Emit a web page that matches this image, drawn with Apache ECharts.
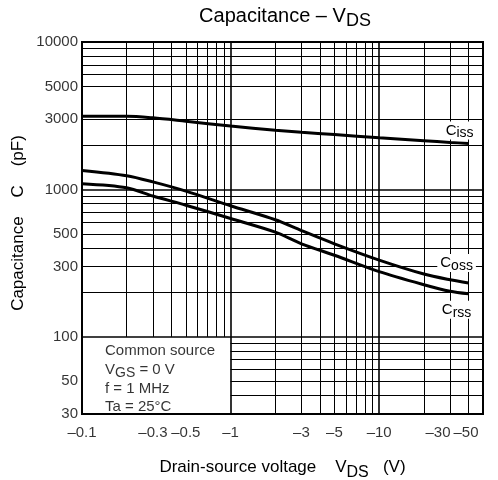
<!DOCTYPE html>
<html>
<head>
<meta charset="utf-8">
<script src="https://cdn.jsdelivr.net/npm/echarts@6/dist/echarts.min.js"></script>
<style>
  html, body { margin: 0; padding: 0; background: #fff; }
  #box { width: 498px; height: 480px; }
</style>
</head>
<body>
<div id="box"></div>
<script>
// |V_DS| in volts (the chart shows them as negative values)
const vds = [0.1, 0.2, 0.3, 0.5, 1, 2, 3, 5, 10, 20, 30, 40];
// capacitance in pF
const ciss = [3140, 3140, 3060, 2900, 2690, 2520, 2440, 2360, 2240, 2140, 2085, 2050];
const coss = [1346, 1240, 1126, 975, 775, 623, 526, 428, 332, 267, 244, 232];
const crss = [1092, 1026, 902, 782, 635, 513, 428, 358, 277, 226, 204, 196];

// tick labels
const xTicks = [0.1, 0.3, 0.5, 1, 3, 5, 10, 30, 50];
const yTicks = [30, 50, 100, 300, 500, 1000, 3000, 5000, 10000];

// grid lines drawn inside the plot
const xGrid = [0.2, 0.3, 0.4, 0.5, 0.6, 0.7, 0.8, 0.9, 1, 2, 3, 4, 5, 6, 7, 8, 9, 10, 20, 30, 40];
const yGrid = [40, 50, 60, 70, 80, 90, 100, 200, 300, 400, 500, 600, 700, 800, 900,
  1000, 2000, 3000, 5000, 6000, 7000, 8000, 9000];

const FONT = "Liberation Sans";
const X_MIN = 0.1, X_MAX = 50, Y_MIN = 30, Y_MAX = 10000;

var myChart = echarts.init(document.getElementById("box"));

// rich text with a lowered sub-script ({n|..} normal, {s|..} sub)
function richSet(size, subSize, lh, drop) {
  return {
    n: { fontSize: size, fontFamily: FONT, fontWeight: "normal", color: "#000", lineHeight: lh },
    s: {
      fontSize: subSize, fontFamily: FONT, fontWeight: "normal", color: "#000",
      lineHeight: lh, height: lh - 2 * drop, verticalAlign: "bottom",
    },
  };
}

// build grid lines (the box bottom-left has no lines)
const lines = [];
xGrid.forEach((v) => {
  const major = v === 1 || v === 10;
  lines.push([
    { coord: [v, v < 1 ? 100 : Y_MIN], lineStyle: { width: major ? 1.6 : 1 } },
    { coord: [v, Y_MAX] },
  ]);
});
yGrid.forEach((v) => {
  const major = v === 100 || v === 1000;
  lines.push([
    { coord: [v < 100 ? 1 : X_MIN, v], lineStyle: { width: major ? 1.6 : 1 } },
    { coord: [X_MAX, v] },
  ]);
});

function curve(name, data, text, offset) {
  const n = vds.length - 1;
  return {
    name: name,
    type: "line",
    z: 3,
    smooth: 0.3,
    showSymbol: false,
    lineStyle: { color: "#000", width: 3 },
    data: vds.map((x, i) => [x, data[i]]),
    markPoint: {
      symbol: "circle",
      symbolSize: 0,
      silent: true,
      data: [{ coord: [vds[n], data[n]] }],
      label: {
        show: true,
        position: "inside",
        offset: offset,
        formatter: "{n|C}{s|" + text + "}",
        backgroundColor: "#fff",
        padding: [0, 3, 0, 3],
        rich: richSet(15, 14, 18, 3),
      },
    },
  };
}

// x label shift for the two last labels (kept inside the chart)
const xShift = { 30: -12, 50: -17 };

myChart.setOption({
  animation: false,
  title: {
    text: "{n|Capacitance – V}{s|DS}",
    left: 285,
    top: 3,
    padding: 0,
    textAlign: "center",
    textStyle: { rich: richSet(20, 18, 26, 5) },
  },
  grid: {
    left: 82,
    right: 15,
    top: 42,
    bottom: 66,
    outerBoundsMode: "none",
    containLabel: false,
    show: true,
    borderColor: "#000",
    borderWidth: 2,
  },
  xAxis: {
    type: "log",
    logBase: 10,
    min: X_MIN,
    max: X_MAX,
    axisLine: { show: false },
    axisTick: { show: false },
    axisLabel: { show: false },
    splitLine: { show: false },
    name: "{n|Drain-source voltage    V}{s|DS}{n|   (V)}",
    nameLocation: "middle",
    nameGap: 42,
    nameTextStyle: { rich: richSet(17, 16, 23, 4.6) },
  },
  yAxis: {
    type: "log",
    logBase: 10,
    min: Y_MIN,
    max: Y_MAX,
    axisLine: { show: false },
    axisTick: { show: false },
    axisLabel: { show: false },
    splitLine: { show: false },
    name: "Capacitance    C    (pF)",
    nameLocation: "middle",
    nameGap: 55,
    nameTextStyle: { fontFamily: FONT, fontSize: 17, color: "#000", padding: [0, 0, 0, 10] },
  },
  series: [
    {
      name: "grid",
      type: "line",
      z: 1,
      data: [],
      silent: true,
      markLine: {
        silent: true,
        symbol: "none",
        label: { show: false },
        lineStyle: { color: "#000", type: "solid", width: 1 },
        data: lines,
      },
    },
    curve("Ciss", ciss, "iss", [-9, -13]),
    curve("Coss", coss, "oss", [-12, -20]),
    curve("Crss", crss, "rss", [-12, 16]),
    {
      name: "yTicks",
      type: "scatter",
      z: 4,
      clip: false,
      silent: true,
      symbolSize: 0,
      data: yTicks.map((v) => [X_MIN, v]),
      label: {
        show: true,
        position: "left",
        distance: 4,
        fontFamily: FONT,
        fontSize: 15,
        color: "#000",
        formatter: (p) => String(p.value[1]),
      },
    },
    {
      name: "xTicks",
      type: "scatter",
      z: 4,
      clip: false,
      silent: true,
      symbolSize: 0,
      data: xTicks.map((v) => ({
        value: [v, Y_MIN],
        label: { offset: [xShift[v] || 0, 0] },
      })),
      label: {
        show: true,
        position: "bottom",
        distance: 11,
        fontFamily: FONT,
        fontSize: 15,
        color: "#000",
        formatter: (p) => "–" + p.value[0],
      },
    },
    {
      name: "conditions",
      type: "scatter",
      z: 4,
      clip: false,
      silent: true,
      symbolSize: 0,
      data: [[X_MIN, 100]],
      label: {
        show: true,
        position: [23, 5],
        align: "left",
        verticalAlign: "top",
        formatter: [
          "{n|Common source}",
          "{n|V}{s|GS}{n| = 0 V}",
          "{n|f = 1 MHz}",
          "{n|Ta = 25°C}",
        ].join("\n"),
        rich: richSet(15, 14, 18.7, 3.6),
      },
    },
  ],
});
</script>
</body>
</html>
